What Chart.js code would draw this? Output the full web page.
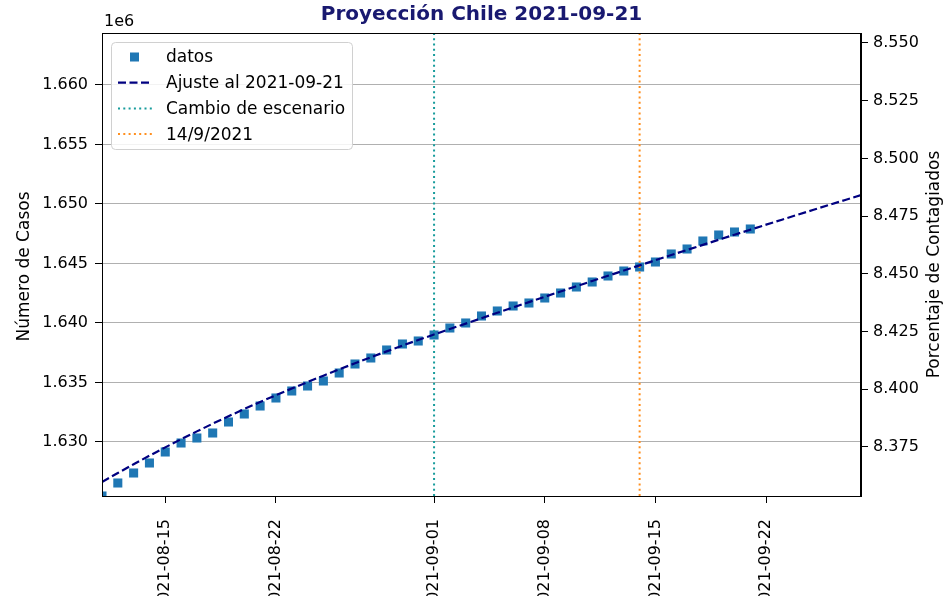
<!DOCTYPE html>
<html lang="es">
<head>
  <meta charset="UTF-8" />
  <title>Proyección Chile 2021-09-21</title>
  <script src="https://cdn.jsdelivr.net/npm/chart.js"></script>
  <style>
    html, body { margin: 0; padding: 0; background: #fff; }
    #wrap { width: 949px; height: 596px; }
  </style>
</head>
<body>
  <div id="wrap"><canvas id="grafico" width="949" height="596"></canvas></div>

  <script>
    // datos observados (casos acumulados)
    const fechasDatos = [
      '2021-08-11','2021-08-12','2021-08-13','2021-08-14','2021-08-15','2021-08-16','2021-08-17',
      '2021-08-18','2021-08-19','2021-08-20','2021-08-21','2021-08-22','2021-08-23','2021-08-24',
      '2021-08-25','2021-08-26','2021-08-27','2021-08-28','2021-08-29','2021-08-30','2021-08-31',
      '2021-09-01','2021-09-02','2021-09-03','2021-09-04','2021-09-05','2021-09-06','2021-09-07',
      '2021-09-08','2021-09-09','2021-09-10','2021-09-11','2021-09-12','2021-09-13','2021-09-14',
      '2021-09-15','2021-09-16','2021-09-17','2021-09-18','2021-09-19','2021-09-20','2021-09-21'
    ];
    const casosDatos = [
      1625462, 1626555, 1627395, 1628235, 1629160, 1629916, 1630336,
      1630756, 1631681, 1632353, 1633025, 1633697, 1634286, 1634706,
      1635126, 1635798, 1636554, 1637059, 1637731, 1638235, 1638487,
      1638991, 1639579, 1640000, 1640588, 1641008, 1641428, 1641680,
      1642100, 1642520, 1643025, 1643445, 1643949, 1644369, 1644705,
      1645125, 1645798, 1646218, 1646890, 1647394, 1647646, 1647898
    ];

    // curva de ajuste
    const fechasAjuste = [
      '2021-08-11','2021-08-12','2021-08-13','2021-08-14','2021-08-15','2021-08-16','2021-08-17',
      '2021-08-18','2021-08-19','2021-08-20','2021-08-21','2021-08-22','2021-08-23','2021-08-24',
      '2021-08-25','2021-08-26','2021-08-27','2021-08-28','2021-08-29','2021-08-30','2021-08-31',
      '2021-09-01','2021-09-02','2021-09-03','2021-09-04','2021-09-05','2021-09-06','2021-09-07',
      '2021-09-08','2021-09-09','2021-09-10','2021-09-11','2021-09-12','2021-09-13','2021-09-14',
      '2021-09-15','2021-09-16','2021-09-17','2021-09-18','2021-09-19','2021-09-20','2021-09-21',
      '2021-09-22','2021-09-23','2021-09-24','2021-09-25','2021-09-26','2021-09-27','2021-09-28'
    ];
    const casosAjuste = [
      1626639, 1627394, 1628131, 1628849, 1629549, 1630230, 1630893,
      1631538, 1632164, 1632772, 1633362, 1633930, 1634488, 1635037,
      1635575, 1636102, 1636618, 1637123, 1637617, 1638100, 1638572,
      1639033, 1639491, 1639947, 1640401, 1640854, 1641305, 1641754,
      1642201, 1642646, 1643089, 1643530, 1643969, 1644407, 1644843,
      1645277, 1645709, 1646139, 1646567, 1646993, 1647418, 1647841,
      1648262, 1648681, 1649098, 1649513, 1649926, 1650338, 1650748
    ];

    const fechaCambio = '2021-09-01';
    const fechaReferencia = '2021-09-14';

    // ejes
    const rangoFechas = ['2021-08-11', '2021-09-28'];
    const rangoCasos = [1625462, 1664368];
    const rangoPorcentaje = [8.35377, 8.55433];
    const ticksFechas = ['2021-08-15','2021-08-22','2021-09-01','2021-09-08','2021-09-15','2021-09-22'];
    const ticksCasos = [1630000, 1635000, 1640000, 1645000, 1650000, 1655000, 1660000];
    const ticksPorcentaje = [8.375, 8.400, 8.425, 8.450, 8.475, 8.500, 8.525, 8.550];

    const DIA = 86400000;
    const t0 = Date.parse(rangoFechas[0]);
    const dia = f => Math.round((Date.parse(f) - t0) / DIA);
    const fechaDeDia = d => new Date(t0 + d * DIA).toISOString().slice(0, 10);

    const azul = '#1f77b4', marino = '#000080', cian = '#179c9c', naranjo = '#ff8f1f';

    Chart.defaults.font.family = '"DejaVu Sans", sans-serif';
    Chart.defaults.font.size = 16;
    Chart.defaults.color = '#000';

    const fijar = (w, h) => scale => {
      if (w != null) scale.width = w;
      if (h != null) scale.height = h;
      scale.paddingLeft = scale.paddingRight = scale.paddingTop = scale.paddingBottom = 0;
    };

    const extras = {
      id: 'extras',
      afterDraw(chart) {
        const { ctx, chartArea: a } = chart;
        ctx.save();
        ctx.strokeStyle = '#000';
        ctx.lineWidth = 1;
        ctx.strokeRect(a.left + 0.5, a.top + 0.5, a.right - a.left - 1, a.bottom - a.top);

        ctx.fillStyle = '#191970';
        ctx.font = 'bold 20px "DejaVu Sans"';
        ctx.textAlign = 'center';
        ctx.textBaseline = 'middle';
        ctx.fillText('Proyección Chile 2021-09-21', (a.left + a.right) / 2, 15);

        ctx.fillStyle = '#000';
        ctx.font = '16px "DejaVu Sans"';
        ctx.textAlign = 'left';
        ctx.fillText('1e6', a.left + 2, 22);

        const cy = (a.top + a.bottom) / 2;
        ctx.font = '17px "DejaVu Sans"';
        ctx.textAlign = 'center';
        ctx.save();
        ctx.translate(25, cy + 2);
        ctx.rotate(-Math.PI / 2);
        ctx.fillText('Número de Casos', 0, 0);
        ctx.restore();
        ctx.save();
        ctx.translate(935, cy);
        ctx.rotate(-Math.PI / 2);
        ctx.fillText('Porcentaje de Contagiados', 0, 0);
        ctx.restore();

        // leyenda
        const lx = a.left + 9, ly = a.top + 9, lw = 241, lh = 107;
        ctx.fillStyle = 'rgba(255,255,255,0.85)';
        ctx.strokeStyle = '#d0d0d0';
        ctx.beginPath();
        ctx.roundRect(lx + 0.5, ly + 0.5, lw, lh, 4);
        ctx.fill();
        ctx.stroke();

        const filas = chart.data.datasets;
        filas.forEach((ds, i) => {
          const y = ly + 15 + i * 25.7;
          const x0 = lx + 7, x1 = lx + 41;
          if (ds.showLine === false) {
            ctx.fillStyle = ds.backgroundColor;
            ctx.fillRect(x0 + 12, y - 4.5, 9, 9);
          } else {
            ctx.strokeStyle = ds.borderColor;
            ctx.lineWidth = ds.borderWidth;
            ctx.setLineDash(ds.borderDash || []);
            ctx.beginPath();
            ctx.moveTo(x0, y);
            ctx.lineTo(x1, y);
            ctx.stroke();
            ctx.setLineDash([]);
          }
          ctx.fillStyle = '#000';
          ctx.textAlign = 'left';
          ctx.fillText(ds.label, lx + 55, y + 1);
        });
        ctx.restore();
      }
    };

    const verticales = [
      { label: 'Cambio de escenario', fecha: fechaCambio, color: cian },
      { label: '14/9/2021', fecha: fechaReferencia, color: naranjo }
    ];

    new Chart(document.getElementById('grafico'), {
      type: 'scatter',
      data: {
        datasets: [
          {
            label: 'datos',
            data: fechasDatos.map((f, i) => ({ x: dia(f), y: casosDatos[i] })),
            showLine: false,
            pointStyle: 'rect',
            pointRadius: 6.4,
            pointBorderWidth: 0,
            backgroundColor: azul,
            borderColor: azul,
            clip: 0,
            order: 3
          },
          {
            label: 'Ajuste al 2021-09-21',
            data: fechasAjuste.map((f, i) => ({ x: dia(f), y: casosAjuste[i] })),
            showLine: true,
            borderColor: marino,
            borderWidth: 2.2,
            borderDash: [8, 3.5],
            pointRadius: 0,
            clip: 0,
            order: 1
          },
          ...verticales.map(v => ({
            label: v.label,
            data: [{ x: dia(v.fecha), y: rangoCasos[0] }, { x: dia(v.fecha), y: rangoCasos[1] }],
            showLine: true,
            borderColor: v.color,
            borderWidth: 2,
            borderDash: [2, 3.3],
            pointRadius: 0,
            order: 2
          }))
        ]
      },
      options: {
        responsive: false,
        animation: false,
        layout: { padding: { top: 33, left: 0, right: 0, bottom: 0 } },
        plugins: { legend: { display: false }, tooltip: { enabled: false } },
        scales: {
          x: {
            type: 'linear',
            min: dia(rangoFechas[0]),
            max: dia(rangoFechas[1]),
            afterFit: fijar(null, 100),
            afterBuildTicks: s => { s.ticks = ticksFechas.map(f => ({ value: dia(f) })); },
            ticks: {
              autoSkip: false,
              maxRotation: 90,
              minRotation: 90,
              padding: 16,
              callback: v => fechaDeDia(v)
            },
            grid: { drawOnChartArea: false, tickLength: 7, tickColor: '#000' },
            border: { color: '#000', width: 1 }
          },
          y: {
            position: 'left',
            min: rangoCasos[0],
            max: rangoCasos[1],
            afterFit: fijar(102, null),
            afterBuildTicks: s => { s.ticks = ticksCasos.map(v => ({ value: v })); },
            ticks: { padding: 7, callback: v => (v / 1e6).toFixed(3) },
            grid: { color: '#b0b0b0', lineWidth: 1, tickLength: 7, tickColor: '#000' },
            border: { color: '#000', width: 1 }
          },
          y2: {
            position: 'right',
            min: rangoPorcentaje[0],
            max: rangoPorcentaje[1],
            afterFit: fijar(88, null),
            afterBuildTicks: s => { s.ticks = ticksPorcentaje.map(v => ({ value: v })); },
            ticks: { padding: 5, callback: v => v.toFixed(3) },
            grid: { drawOnChartArea: false, tickLength: 7, tickColor: '#000' },
            border: { color: '#000', width: 1 }
          }
        }
      },
      plugins: [extras]
    });
  </script>
</body>
</html>
